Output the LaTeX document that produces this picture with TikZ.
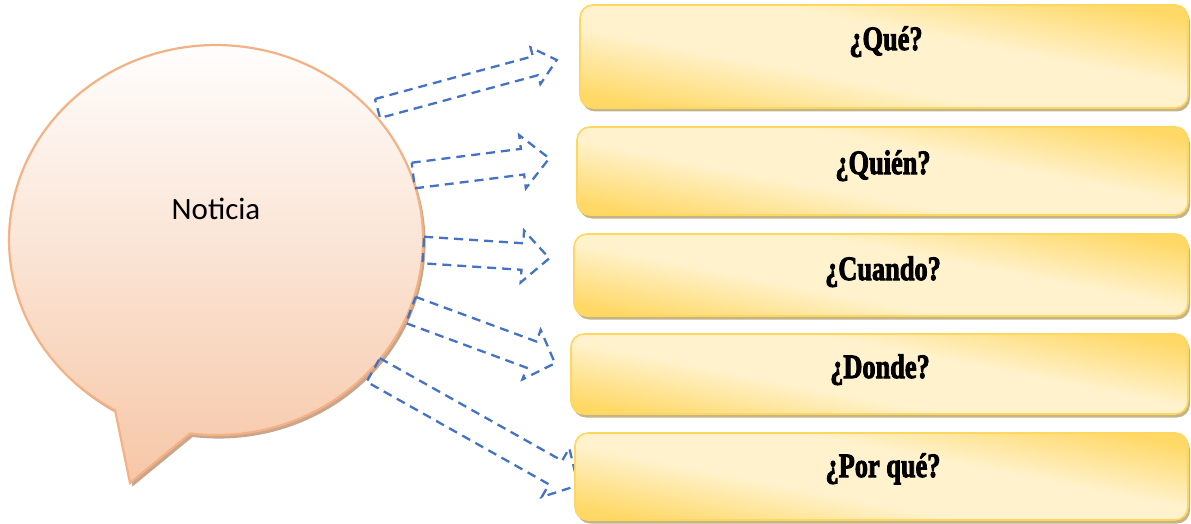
\documentclass[tikz,border=0pt]{standalone}
\usepackage{fontspec}
\usepackage{graphicx}
\usetikzlibrary{calc,shadows}
\newfontfamily\notfont{Carlito}
\newfontfamily\qfont{Liberation Serif}[FakeBold=3]
\definecolor{arrowblue}{RGB}{68,114,196}
\definecolor{bubbot}{RGB}{246,199,167}
\definecolor{bubline}{RGB}{244,177,131}
\definecolor{bubshadow}{RGB}{200,165,140}
\definecolor{boxgold}{RGB}{255,216,102}
\definecolor{boxcream}{RGB}{255,242,204}
\definecolor{boxline}{RGB}{255,214,94}
\definecolor{boxshadow}{RGB}{196,180,135}
\pgfdeclareverticalshading{boxshade}{100bp}{color(0bp)=(boxgold); color(24bp)=(boxgold); color(42bp)=(boxcream); color(58bp)=(boxcream); color(76bp)=(boxgold); color(100bp)=(boxgold)}
\tikzset{
  bubble/.style={draw=bubline, line width=2.2pt, top color=white, bottom color=bubbot,
    drop shadow={shadow xshift=2.5pt, shadow yshift=-3.5pt, fill=bubshadow, opacity=1}},
  nottext/.style={anchor=base, inner sep=0pt, font=\notfont\fontsize{31}{36}\selectfont},
  arrowline/.style={draw=arrowblue, line width=2.3pt, dash pattern=on 9pt off 6pt, line join=miter},
  qbox/.style={draw=boxline, line width=1.6pt, rounded corners=13pt, shading=boxshade, shading angle=-11,
    inner sep=0pt, outer sep=0pt,
    drop shadow={shadow xshift=2pt, shadow yshift=-3.5pt, fill=boxshadow, opacity=1}},
  qtext/.style={anchor=base, inner sep=0pt, font=\qfont\bfseries\fontsize{31}{36}\selectfont}
}
\newcommand\mydblarrow[5]{%
  \coordinate (hb) at ($(#2)!#5!(#1)$);
  \draw[arrowline] ($(#1)!#3!90:(#2)$) -- ($(hb)!#3!90:(#2)$) -- ($(hb)!#4!90:(#2)$) -- (#2)
    -- ($(hb)!#4!-90:(#2)$) -- ($(hb)!#3!-90:(#2)$) -- ($(#1)!#3!-90:(#2)$) -- cycle;
}
\newcommand\qlabel[1]{\scalebox{0.85}[1.1]{#1}}
\begin{document}
\begin{tikzpicture}[x=1pt, y=-1pt]
\path[use as bounding box] (0,0) rectangle (1191,524);
% speech bubble
\coordinate (bubble) at (216,240);
\draw[bubble] (190.1,433.5) arc[start angle=-97.2, end angle=240.8, x radius=207pt, y radius=195pt] -- (130,483) -- cycle;
\node[nottext] (noticia) at (216,219) {Noticia};
% block arrows
\coordinate (a1s) at (377.5,108.5); \coordinate (a1e) at (556.7,60);
\coordinate (a2s) at (413.3,175.5); \coordinate (a2e) at (549.3,158.3);
\coordinate (a3s) at (423.3,250);   \coordinate (a3e) at (549.3,258.3);
\coordinate (a4s) at (410.8,310);   \coordinate (a4e) at (555,363.3);
\coordinate (a5s) at (373.3,370);   \coordinate (a5e) at (578.2,485.3);
\mydblarrow{a1s}{a1e}{9.8pt}{19pt}{22pt}
\mydblarrow{a2s}{a2e}{12.9pt}{26.8pt}{27pt}
\mydblarrow{a3s}{a3e}{13.3pt}{26pt}{27pt}
\mydblarrow{a4s}{a4e}{14pt}{26.4pt}{25pt}
\mydblarrow{a5s}{a5e}{13.5pt}{28pt}{26pt}
% boxes
\node[qbox, minimum width=608pt, minimum height=103pt] (b1) at (884,56.5) {};
\node[qbox, minimum width=611pt, minimum height=88pt] (b2) at (882.5,171) {};
\node[qbox, minimum width=614pt, minimum height=82pt] (b3) at (881,275) {};
\node[qbox, minimum width=617pt, minimum height=80pt] (b4) at (879.5,374) {};
\node[qbox, minimum width=613pt, minimum height=87pt] (b5) at (881.5,476.5) {};
\node[qtext] (t1) at (886,50) {\qlabel{¿Qué?}};
\node[qtext] (t2) at (883,174) {\qlabel{¿Quién?}};
\node[qtext] (t3) at (883,280) {\qlabel{¿Cuando?}};
\node[qtext] (t4) at (880,378) {\qlabel{¿Donde?}};
\node[qtext] (t5) at (883,477) {\qlabel{¿Por qué?}};
\end{tikzpicture}
\end{document}
